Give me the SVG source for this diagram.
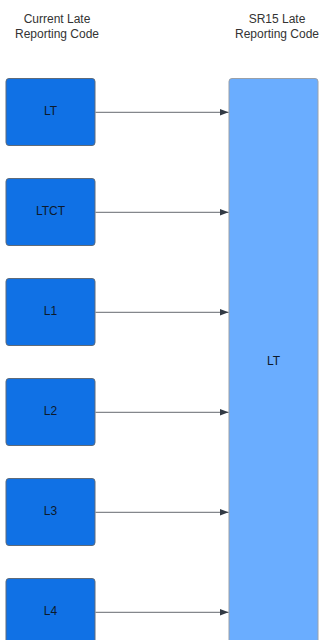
<svg xmlns="http://www.w3.org/2000/svg" width="323" height="640" viewBox="0 0 323 640">
  <style>
    .hdr { font-family: "Liberation Sans", Arial, sans-serif; font-size: 12px; fill: #333333; text-anchor: middle; }
    .lbl { font-family: "Liberation Sans", Arial, sans-serif; font-size: 12px; fill: #0d1a2b; text-anchor: middle; }
    .src { fill: #1071e5; stroke: #5e6b7a; stroke-width: 1; }
    .dst { fill: #6aadff; stroke: #9aa0a8; stroke-width: 1; }
    .conn { stroke: #666a70; stroke-width: 1; fill: none; marker-end: url(#arrow); }
  </style>
  <defs>
    <marker id="arrow" markerWidth="10" markerHeight="8" refX="9" refY="4" orient="auto" markerUnits="userSpaceOnUse">
      <path d="M0,0.5 L9,4 L0,7.5 Z" fill="#333a44"/>
    </marker>
  </defs>
  <rect width="323" height="640" fill="#ffffff"/>

  <!-- column headings -->
  <g id="header-current">
    <text class="hdr" x="57" y="23">Current Late</text>
    <text class="hdr" x="57" y="38">Reporting Code</text>
  </g>
  <g id="header-sr15">
    <text class="hdr" x="277" y="23">SR15 Late</text>
    <text class="hdr" x="277" y="38">Reporting Code</text>
  </g>

  <!-- target code -->
  <g id="node-sr15-lt">
    <rect class="dst" x="229" y="78.5" width="89" height="575" rx="3"/>
    <text class="lbl" x="273.5" y="364.5">LT</text>
  </g>

  <!-- current codes -->
  <g id="node-lt">
    <rect class="src" x="6" y="78.5" width="89" height="67" rx="3"/>
    <text class="lbl" x="50.5" y="114.5">LT</text>
  </g>
  <g id="node-ltct">
    <rect class="src" x="6" y="178.5" width="89" height="67" rx="3"/>
    <text class="lbl" x="50.5" y="214.5">LTCT</text>
  </g>
  <g id="node-l1">
    <rect class="src" x="6" y="278.5" width="89" height="67" rx="3"/>
    <text class="lbl" x="50.5" y="314.5">L1</text>
  </g>
  <g id="node-l2">
    <rect class="src" x="6" y="378.5" width="89" height="67" rx="3"/>
    <text class="lbl" x="50.5" y="414.5">L2</text>
  </g>
  <g id="node-l3">
    <rect class="src" x="6" y="478.5" width="89" height="67" rx="3"/>
    <text class="lbl" x="50.5" y="514.5">L3</text>
  </g>
  <g id="node-l4">
    <rect class="src" x="6" y="578.5" width="89" height="67" rx="3"/>
    <text class="lbl" x="50.5" y="614.5">L4</text>
  </g>

  <!-- mappings -->
  <g id="connectors">
    <line class="conn" x1="95.5" y1="112.3" x2="228.5" y2="112.3"/>
    <line class="conn" x1="95.5" y1="212.3" x2="228.5" y2="212.3"/>
    <line class="conn" x1="95.5" y1="312.3" x2="228.5" y2="312.3"/>
    <line class="conn" x1="95.5" y1="412.3" x2="228.5" y2="412.3"/>
    <line class="conn" x1="95.5" y1="512.3" x2="228.5" y2="512.3"/>
    <line class="conn" x1="95.5" y1="612.3" x2="228.5" y2="612.3"/>
  </g>
</svg>
